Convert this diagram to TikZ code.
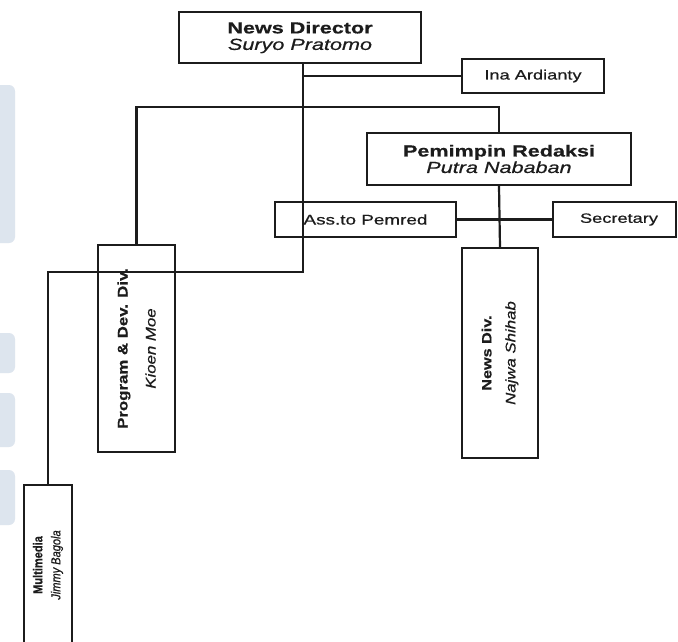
\documentclass[tikz,border=0pt]{standalone}
\usepackage{fontspec}
\setmainfont{Liberation Sans}
% wide face for the horizontal labels, other stretches for the upright columns
\newfontfamily\widefont[FakeStretch=1.35, FakeBold=0.6]{Liberation Sans}
\newfontfamily\colfont[FakeStretch=1.2, FakeBold=0.6]{Liberation Sans}
\newfontfamily\narrowfont[FakeStretch=0.85, FakeBold=0.6]{Liberation Sans}
\definecolor{ink}{HTML}{1C1C1C}
\definecolor{tabblue}{RGB}{221,229,238}
\tikzset{
  orgbox/.style={draw=ink, line width=2.2pt, inner sep=0pt},
  link/.style={draw=ink, line width=2.2pt},
  hlabel/.style={align=center, text=ink, inner sep=0pt},
  vlabel/.style={align=center, text=ink, inner sep=0pt, rotate=90},
  tab/.style={fill=tabblue, rounded corners=6pt}
}
\begin{document}
\begin{tikzpicture}[x=1pt, y=-1pt]
\clip (0,0) rectangle (678,641);
\fill[white] (0,0) rectangle (678,641);

% index tabs along the left margin
\fill[tab] (-8,85) rectangle (15,243);
\fill[tab] (-8,333) rectangle (15,373);
\fill[tab] (-8,393) rectangle (15,447);
\fill[tab] (-8,470) rectangle (15,525);

% boxes
\node[orgbox, minimum width=242pt, minimum height=51pt] (nd) at (300,37.5) {};
\node[hlabel, font=\widefont\fontsize{16}{16.5}\selectfont] (ndtext) at (nd.center)
  {{\bfseries News Director}\\{\itshape Suryo Pratomo}};

\node[orgbox, minimum width=142pt, minimum height=34pt] (ina) at (533,76) {};
\node[hlabel, font=\widefont\fontsize{13.5}{16}\selectfont] (inatext) at (ina.center) {Ina Ardianty};

\node[orgbox, minimum width=264pt, minimum height=52pt] (pr) at (499,159) {};
\node[hlabel, font=\widefont\fontsize{16}{16.5}\selectfont] (prtext) at (pr.center)
  {{\bfseries Pemimpin Redaksi}\\{\itshape Putra Nababan}};

\node[orgbox, minimum width=181pt, minimum height=35pt] (ass) at (365.5,219.5) {};
\node[hlabel, font=\widefont\fontsize{14}{16}\selectfont] (asstext) at (ass.center) {Ass.to Pemred};

\node[orgbox, minimum width=123pt, minimum height=35pt] (sec) at (614.5,219.5) {};
\node[hlabel, font=\widefont\fontsize{13.5}{16}\selectfont] (sectext) at (619,219.5) {Secretary};

\node[orgbox, minimum width=77pt, minimum height=207pt] (prog) at (136.5,348.5) {};
\node[vlabel, font=\colfont\fontsize{14}{28}\selectfont] (progtext) at (prog.center)
  {{\bfseries Program \& Dev. Div.}\\{\itshape Kioen Moe}};

\node[orgbox, minimum width=76pt, minimum height=210pt] (news) at (500,353) {};
\node[vlabel, font=\colfont\fontsize{14}{24}\selectfont] (newstext) at (news.center)
  {{\fontsize{13.5}{24}\selectfont\bfseries News Div.}\\{\itshape Najwa Shihab}};

\node[orgbox, minimum width=48pt, minimum height=160pt] (mm) at (48,565) {};
\node[vlabel, font=\narrowfont\fontsize{13}{18}\selectfont] (mmtext) at (mm.center)
  {{\bfseries Multimedia}\\{\itshape Jimmy Bagola}};

% connectors
\coordinate (jina) at (303,76);
\coordinate (jbar) at (303,107);
\coordinate (jlow) at (303,272);
\path[link] (nd.south -| jina) -- (jlow) -| (mm.north);
\path[link] (jina) -- (ina.west);
\path[link] (prog.north) |- (jbar) -| (pr.north);
\path[link] (pr.south) -- (news.north);
\path[link] (ass.east) -- (sec.west);
\end{tikzpicture}
\end{document}
